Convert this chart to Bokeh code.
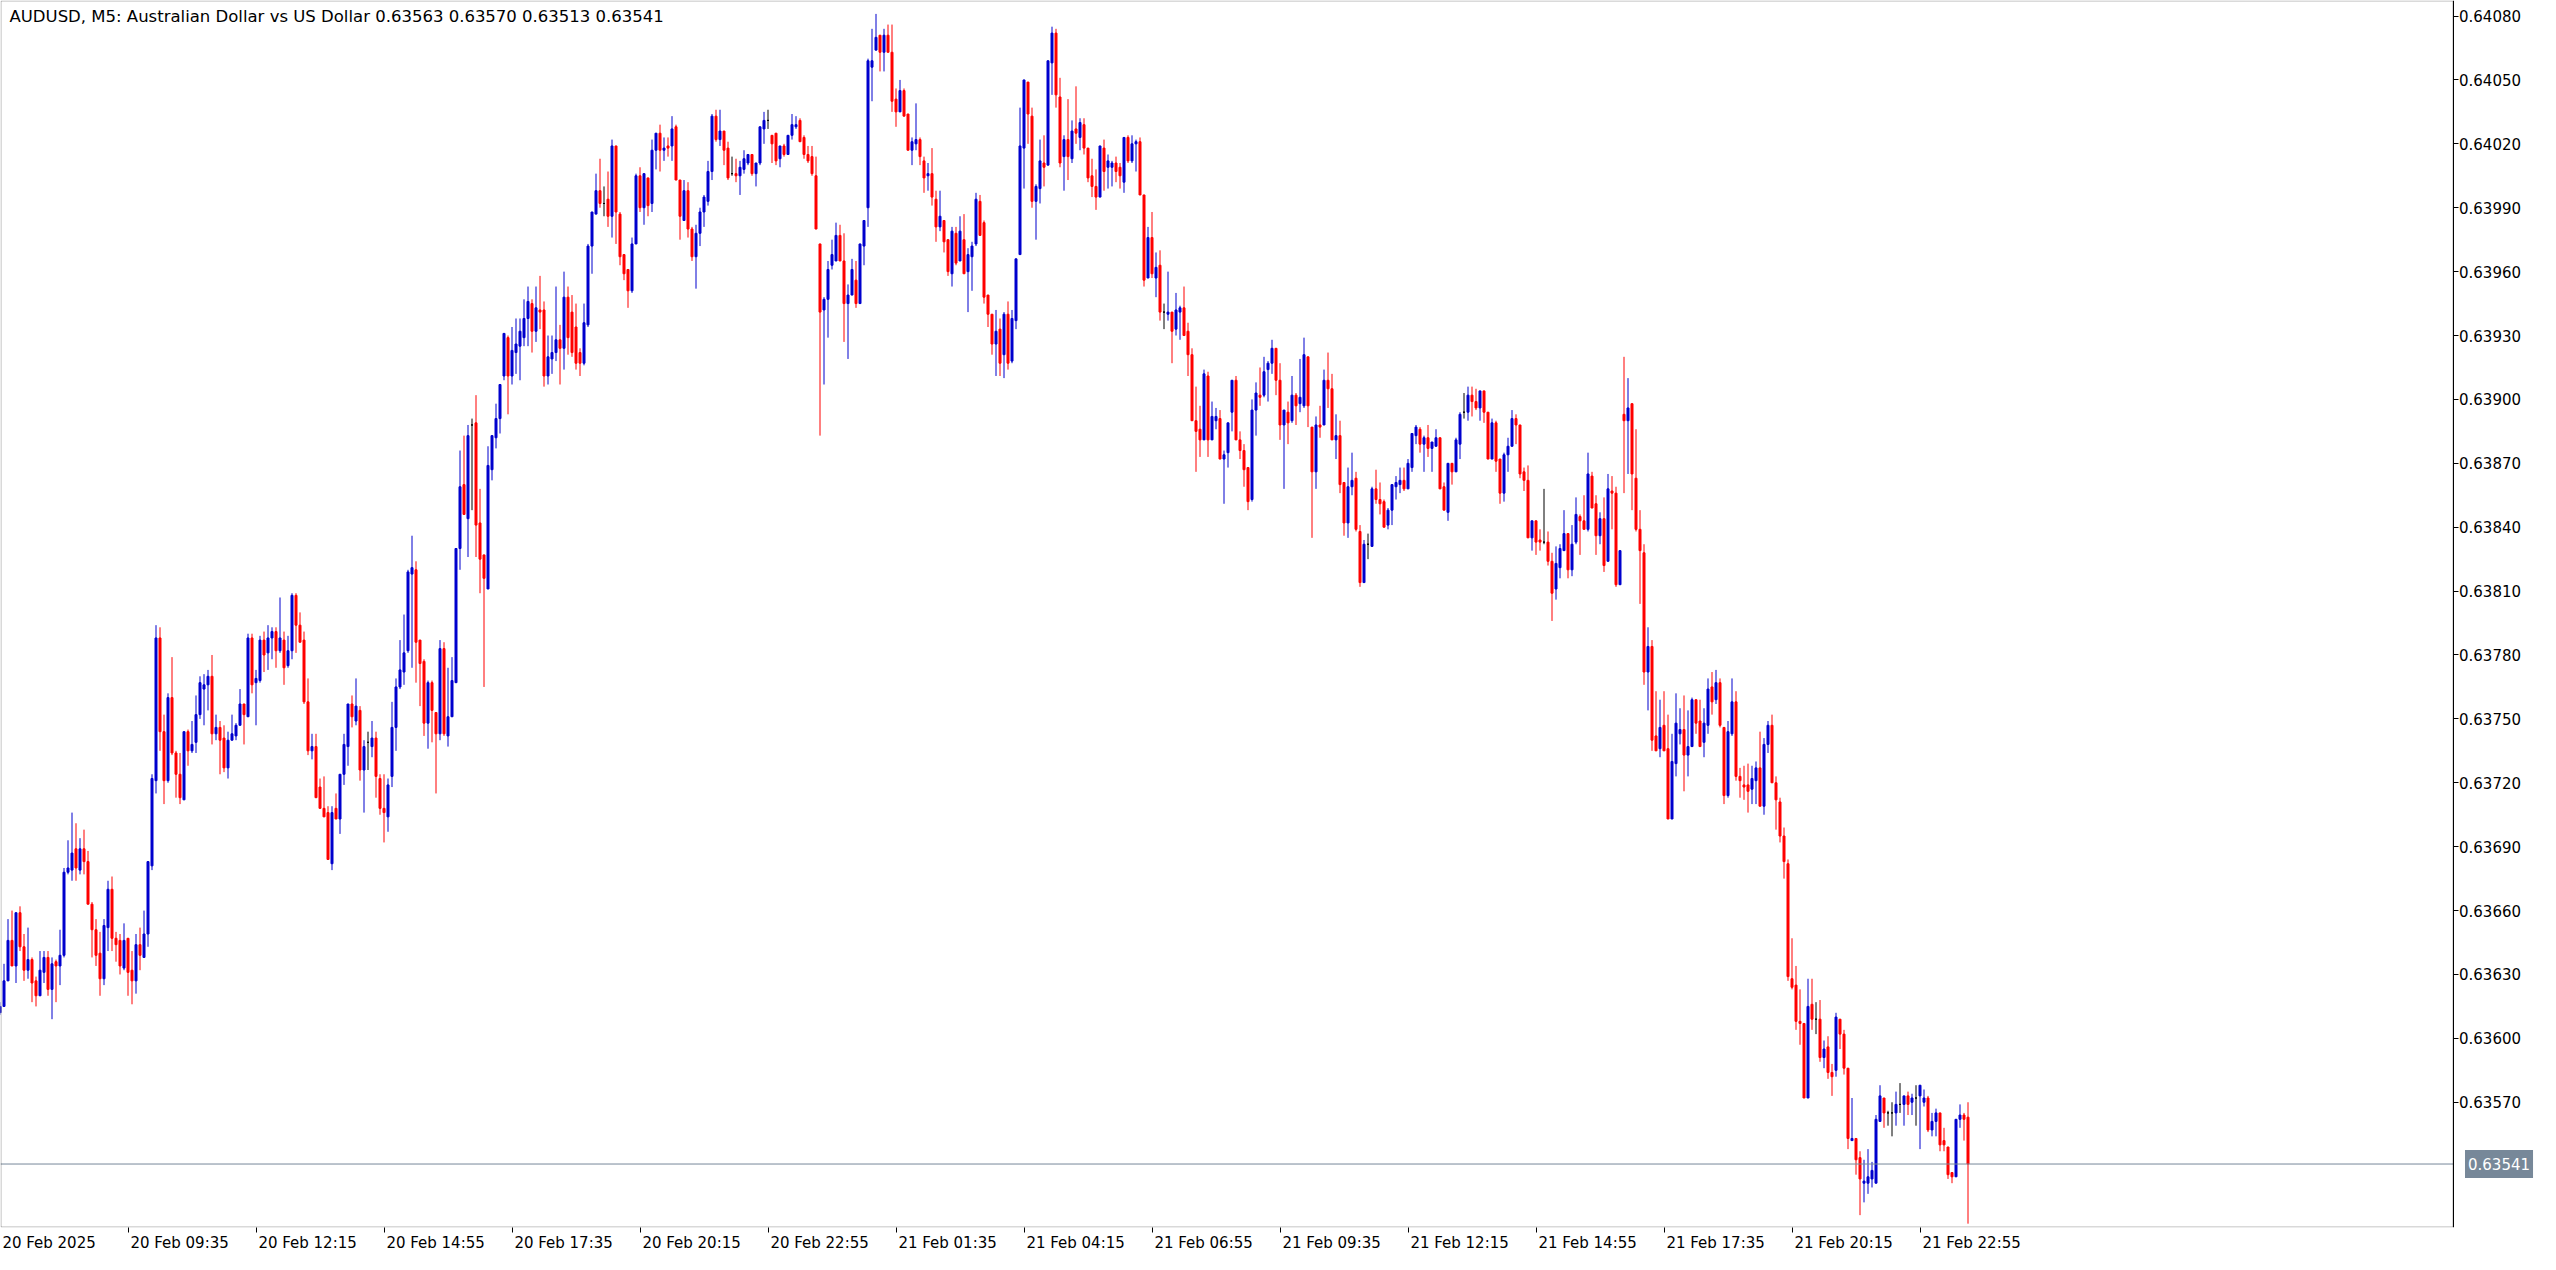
import numpy as np
from bokeh.plotting import figure
from bokeh.models import (ColumnDataSource, LinearAxis, FixedTicker, NumeralTickFormatter,
                          Range1d, Label, BoxAnnotation)
from bokeh.embed import file_html
from bokeh.resources import INLINE

# ---------------- data (prices in points of 0.00001) ----------------
symbol = "AUDUSD"
timeframe = "M5"
description = "Australian Dollar vs US Dollar"
point = 0.00001

bar_open = [
    63612, 63615, 63627, 63646, 63634, 63659, 63643, 63632, 63637, 63627,
    63620, 63631, 63638, 63623, 63636, 63634, 63639, 63678, 63679, 63689,
    63679, 63689, 63683, 63663, 63651, 63640, 63628, 63652, 63670, 63647,
    63646, 63633, 63647, 63632, 63627, 63644, 63638, 63649, 63681, 63721,
    63788, 63744, 63721, 63760, 63734, 63724, 63712, 63744, 63735, 63739,
    63752, 63764, 63766, 63770, 63743, 63746, 63741, 63727, 63740, 63742,
    63747, 63757, 63751, 63788, 63767, 63768, 63787, 63781, 63788, 63791,
    63782, 63787, 63775, 63782, 63808, 63794, 63787, 63758, 63735, 63737,
    63718, 63708, 63706, 63682, 63708, 63703, 63724, 63737, 63757, 63749,
    63754, 63726, 63739, 63737, 63741, 63722, 63708, 63704, 63723, 63746,
    63765, 63772, 63782, 63818, 63820, 63787, 63777, 63748, 63767, 63753,
    63743, 63783, 63742, 63751, 63767, 63830, 63860, 63844, 63888, 63889,
    63842, 63827, 63811, 63867, 63882, 63891, 63911, 63929, 63911, 63922,
    63925, 63929, 63938, 63945, 63932, 63942, 63942, 63911, 63919, 63922,
    63928, 63924, 63948, 63941, 63934, 63922, 63917, 63935, 63972, 63987,
    63998, 63992, 63994, 63986, 64019, 63987, 63968, 63961, 63951, 63973,
    64005, 63990, 64004, 63992, 64017, 64025, 64017, 64019, 64019, 64028,
    64003, 63984, 63998, 63980, 63967, 63978, 63988, 63993, 64007, 64033,
    64022, 64026, 64018, 64006, 64006, 64005, 64008, 64011, 64015, 64006,
    64011, 64027, 64031, 64024, 64025, 64013, 64019, 64015, 64024, 64028,
    64031, 64023, 64015, 64014, 64005, 63973, 63942, 63947, 63963, 63965,
    63977, 63965, 63945, 63949, 63956, 63945, 63972, 63990, 64056, 64064,
    64071, 64063, 64071, 64063, 64041, 64035, 64045, 64034, 64017, 64020,
    64022, 64012, 64005, 64006, 63994, 63981, 63984, 63975, 63959, 63978,
    63965, 63975, 63960, 63967, 63973, 63993, 63983, 63949, 63940, 63926,
    63933, 63921, 63940, 63918, 63937, 63968, 64018, 64049, 64033, 63993,
    63999, 64011, 64010, 64058, 64072, 64042, 64014, 64022, 64013, 64027,
    64023, 64029, 64018, 64005, 64000, 63995, 64018, 64009, 64009, 64011,
    64009, 64002, 64023, 64012, 64020, 64021, 63996, 63957, 63976, 63957,
    63963, 63941, 63940, 63941, 63933, 63941, 63943, 63932, 63921, 63890,
    63886, 63881, 63911, 63881, 63890, 63891, 63872, 63875, 63894, 63909,
    63881, 63876, 63868, 63853, 63895, 63902, 63902, 63914, 63917, 63924,
    63909, 63888, 63894, 63890, 63902, 63898, 63897, 63920, 63887, 63866,
    63888, 63888, 63909, 63905, 63881, 63883, 63861, 63842, 63859, 63863,
    63838, 63814, 63832, 63831, 63858, 63853, 63852, 63841, 63848, 63859,
    63860, 63862, 63858, 63868, 63883, 63886, 63879, 63882, 63877, 63878,
    63882, 63859, 63847, 63870, 63866, 63879, 63894, 63894, 63902, 63899,
    63896, 63904, 63894, 63872, 63889, 63872, 63856, 63874, 63878, 63891,
    63888, 63866, 63862, 63835, 63843, 63834, 63833, 63833, 63824, 63811,
    63821, 63829, 63837, 63820, 63833, 63845, 63843, 63839, 63864, 63851,
    63836, 63844, 63824, 63857, 63856, 63813, 63893, 63890, 63898, 63863,
    63839, 63828, 63772, 63784, 63742, 63736, 63747, 63736, 63703, 63729,
    63743, 63745, 63733, 63737, 63759, 63749, 63739, 63747, 63765, 63759,
    63767, 63746, 63714, 63743, 63758, 63723, 63719, 63719, 63717, 63721,
    63727, 63709, 63738, 63747, 63720, 63711, 63695, 63682, 63628, 63625,
    63608, 63607, 63572, 63616, 63609, 63609, 63591, 63596, 63584, 63585,
    63609, 63602, 63586, 63552, 63553, 63544, 63532, 63532, 63534, 63532,
    63561, 63572, 63565, 63565, 63565, 63569, 63569, 63573, 63570, 63572,
    63573, 63570, 63572, 63557, 63561, 63565, 63552, 63549, 63537, 63535,
    63562, 63564, 63563,
]

bar_high = [
    63617, 63635, 63656, 63660, 63659, 63662, 63649, 63652, 63638, 63629,
    63641, 63641, 63641, 63638, 63637, 63651, 63680, 63693, 63706, 63701,
    63694, 63698, 63688, 63664, 63656, 63650, 63656, 63674, 63676, 63650,
    63649, 63654, 63647, 63641, 63649, 63652, 63660, 63683, 63724, 63794,
    63793, 63752, 63762, 63779, 63735, 63734, 63744, 63745, 63749, 63761,
    63770, 63771, 63773, 63780, 63752, 63749, 63747, 63744, 63752, 63748,
    63764, 63757, 63790, 63790, 63773, 63789, 63791, 63794, 63793, 63793,
    63807, 63791, 63789, 63809, 63809, 63800, 63791, 63769, 63743, 63743,
    63722, 63723, 63709, 63709, 63715, 63724, 63743, 63757, 63761, 63769,
    63756, 63740, 63744, 63749, 63744, 63724, 63724, 63722, 63758, 63769,
    63787, 63799, 63820, 63836, 63824, 63787, 63778, 63768, 63768, 63753,
    63787, 63786, 63774, 63779, 63830, 63876, 63883, 63888, 63891, 63902,
    63858, 63827, 63878, 63883, 63898, 63907, 63931, 63930, 63934, 63938,
    63938, 63947, 63953, 63947, 63953, 63958, 63946, 63930, 63930, 63953,
    63935, 63960, 63953, 63949, 63945, 63924, 63945, 63973, 63988, 64006,
    64013, 64000, 64007, 64022, 64019, 63988, 63968, 63961, 63976, 64006,
    64009, 64006, 64004, 64022, 64025, 64029, 64023, 64023, 64033, 64029,
    64003, 64003, 64002, 63981, 63982, 63990, 63996, 64012, 64034, 64036,
    64036, 64026, 64021, 64014, 64013, 64012, 64017, 64015, 64015, 64011,
    64028, 64035, 64036, 64024, 64025, 64019, 64020, 64024, 64034, 64033,
    64032, 64024, 64019, 64019, 64014, 63973, 63948, 63965, 63975, 63983,
    63982, 63978, 63954, 63966, 63965, 63973, 63984, 64060, 64074, 64081,
    64071, 64074, 64076, 64076, 64046, 64050, 64046, 64034, 64023, 64039,
    64023, 64014, 64011, 64018, 63998, 63998, 63984, 63975, 63981, 63981,
    63986, 63987, 63971, 63974, 63997, 63996, 63984, 63949, 63940, 63942,
    63938, 63941, 63946, 63942, 63966, 64037, 64050, 64049, 64037, 64001,
    64022, 64024, 64059, 64075, 64074, 64051, 64024, 64041, 64031, 64047,
    64032, 64032, 64018, 64013, 64008, 64019, 64022, 64015, 64012, 64014,
    64011, 64023, 64024, 64024, 64022, 64023, 63996, 63981, 63988, 63969,
    63970, 63945, 63960, 63941, 63950, 63944, 63953, 63936, 63924, 63906,
    63897, 63914, 63913, 63899, 63896, 63895, 63876, 63889, 63909, 63911,
    63885, 63879, 63868, 63900, 63908, 63915, 63920, 63918, 63928, 63924,
    63917, 63895, 63899, 63911, 63903, 63919, 63929, 63920, 63887, 63892,
    63897, 63914, 63922, 63912, 63893, 63890, 63861, 63868, 63875, 63866,
    63841, 63834, 63837, 63859, 63867, 63861, 63853, 63849, 63860, 63864,
    63868, 63868, 63872, 63884, 63888, 63887, 63883, 63888, 63880, 63886,
    63882, 63861, 63870, 63870, 63882, 63894, 63903, 63906, 63906, 63905,
    63904, 63904, 63894, 63891, 63890, 63872, 63875, 63882, 63895, 63893,
    63888, 63868, 63869, 63843, 63843, 63839, 63858, 63838, 63828, 63831,
    63832, 63848, 63837, 63841, 63854, 63846, 63855, 63875, 63866, 63855,
    63847, 63854, 63865, 63864, 63859, 63829, 63920, 63910, 63898, 63886,
    63848, 63832, 63793, 63787, 63763, 63759, 63763, 63752, 63743, 63762,
    63755, 63761, 63754, 63760, 63759, 63759, 63755, 63769, 63772, 63773,
    63769, 63746, 63749, 63769, 63763, 63727, 63728, 63729, 63728, 63730,
    63744, 63741, 63749, 63752, 63723, 63713, 63699, 63684, 63647, 63634,
    63623, 63607, 63628, 63628, 63617, 63618, 63599, 63601, 63588, 63612,
    63609, 63604, 63586, 63572, 63553, 63547, 63543, 63548, 63542, 63564,
    63578, 63572, 63566, 63570, 63575, 63579, 63573, 63575, 63574, 63578,
    63578, 63576, 63573, 63565, 63567, 63565, 63558, 63549, 63537, 63562,
    63569, 63565, 63570,
]

bar_low = [
    63611, 63615, 63627, 63634, 63626, 63641, 63627, 63628, 63617, 63615,
    63620, 63626, 63620, 63609, 63617, 63625, 63638, 63677, 63674, 63674,
    63677, 63677, 63663, 63638, 63634, 63620, 63625, 63641, 63641, 63636,
    63630, 63632, 63620, 63616, 63621, 63632, 63638, 63643, 63679, 63715,
    63735, 63710, 63720, 63733, 63713, 63710, 63712, 63728, 63734, 63734,
    63750, 63747, 63754, 63738, 63740, 63724, 63725, 63722, 63740, 63740,
    63747, 63738, 63751, 63762, 63747, 63767, 63772, 63773, 63778, 63774,
    63781, 63766, 63774, 63778, 63781, 63786, 63757, 63733, 63731, 63713,
    63708, 63704, 63684, 63679, 63703, 63696, 63719, 63728, 63746, 63747,
    63721, 63706, 63726, 63732, 63713, 63705, 63692, 63697, 63718, 63735,
    63764, 63766, 63781, 63774, 63767, 63756, 63742, 63736, 63739, 63715,
    63740, 63742, 63737, 63751, 63767, 63820, 63846, 63826, 63848, 63826,
    63809, 63765, 63811, 63862, 63877, 63884, 63909, 63893, 63907, 63912,
    63909, 63925, 63925, 63922, 63927, 63933, 63906, 63907, 63912, 63918,
    63907, 63914, 63921, 63920, 63914, 63911, 63916, 63934, 63959, 63987,
    63990, 63986, 63981, 63976, 63973, 63963, 63956, 63943, 63950, 63973,
    63988, 63982, 63986, 63988, 64008, 64007, 64012, 64014, 64012, 64003,
    63975, 63984, 63976, 63965, 63952, 63972, 63981, 63991, 64003, 64021,
    64019, 64010, 64003, 64005, 64002, 63996, 64006, 64010, 64005, 64000,
    64010, 64020, 64027, 64011, 64010, 64009, 64014, 64015, 64022, 64027,
    64021, 64013, 64011, 64005, 63980, 63883, 63907, 63929, 63961, 63965,
    63965, 63927, 63919, 63949, 63943, 63945, 63963, 63981, 64040, 64064,
    64054, 64054, 64063, 64035, 64028, 64035, 64033, 64017, 64010, 64017,
    64010, 63997, 63998, 63991, 63974, 63979, 63969, 63958, 63953, 63963,
    63965, 63959, 63941, 63951, 63972, 63977, 63945, 63934, 63921, 63911,
    63911, 63910, 63914, 63917, 63933, 63968, 63999, 64020, 63990, 63975,
    63992, 64000, 64010, 64043, 64037, 64009, 63998, 64003, 64011, 64020,
    64017, 64015, 64002, 63995, 63989, 63995, 63998, 63999, 64000, 64002,
    63999, 63997, 64011, 64011, 64007, 63996, 63953, 63957, 63957, 63948,
    63937, 63933, 63937, 63917, 63930, 63928, 63930, 63911, 63890, 63866,
    63873, 63881, 63873, 63881, 63886, 63872, 63851, 63868, 63885, 63881,
    63872, 63859, 63848, 63852, 63883, 63897, 63901, 63899, 63912, 63902,
    63881, 63858, 63879, 63889, 63888, 63894, 63896, 63887, 63835, 63858,
    63882, 63888, 63896, 63881, 63872, 63856, 63836, 63835, 63855, 63838,
    63812, 63814, 63825, 63831, 63851, 63846, 63840, 63839, 63841, 63853,
    63856, 63857, 63858, 63866, 63879, 63875, 63866, 63873, 63866, 63878,
    63858, 63848, 63843, 63860, 63866, 63872, 63891, 63890, 63892, 63895,
    63890, 63889, 63872, 63872, 63866, 63851, 63852, 63866, 63878, 63879,
    63863, 63857, 63835, 63829, 63827, 63829, 63832, 63822, 63796, 63806,
    63816, 63829, 63816, 63817, 63832, 63827, 63839, 63838, 63849, 63827,
    63832, 63819, 63824, 63839, 63812, 63813, 63856, 63865, 63848, 63838,
    63804, 63766, 63754, 63735, 63735, 63732, 63735, 63703, 63703, 63723,
    63738, 63716, 63723, 63737, 63743, 63737, 63732, 63743, 63752, 63757,
    63746, 63710, 63713, 63742, 63721, 63713, 63712, 63706, 63710, 63710,
    63709, 63705, 63734, 63720, 63698, 63692, 63675, 63627, 63623, 63604,
    63597, 63572, 63572, 63604, 63602, 63589, 63586, 63581, 63573, 63582,
    63595, 63583, 63548, 63552, 63536, 63517, 63523, 63527, 63530, 63532,
    63561, 63558, 63559, 63554, 63559, 63565, 63559, 63564, 63564, 63559,
    63548, 63568, 63556, 63554, 63554, 63547, 63547, 63534, 63532, 63535,
    63558, 63552, 63513,
]

bar_close = [
    63615, 63627, 63646, 63634, 63659, 63643, 63632, 63637, 63626, 63620,
    63632, 63638, 63623, 63635, 63634, 63639, 63678, 63680, 63687, 63680,
    63689, 63683, 63663, 63651, 63639, 63628, 63653, 63670, 63647, 63644,
    63634, 63646, 63631, 63627, 63644, 63639, 63649, 63683, 63722, 63788,
    63744, 63721, 63760, 63734, 63724, 63713, 63744, 63735, 63738, 63752,
    63767, 63766, 63770, 63743, 63746, 63740, 63727, 63740, 63743, 63747,
    63757, 63752, 63788, 63766, 63769, 63787, 63780, 63788, 63791, 63782,
    63788, 63774, 63782, 63808, 63794, 63786, 63758, 63735, 63737, 63713,
    63708, 63704, 63684, 63706, 63703, 63724, 63738, 63757, 63751, 63756,
    63726, 63737, 63739, 63741, 63723, 63708, 63706, 63719, 63746, 63765,
    63773, 63781, 63819, 63821, 63786, 63776, 63748, 63767, 63754, 63743,
    63783, 63743, 63751, 63768, 63830, 63859, 63846, 63883, 63888, 63841,
    63825, 63816, 63869, 63883, 63891, 63907, 63931, 63911, 63923, 63926,
    63932, 63938, 63946, 63932, 63943, 63941, 63911, 63920, 63922, 63928,
    63924, 63948, 63929, 63922, 63917, 63917, 63936, 63972, 63988, 63998,
    63992, 63992, 63986, 64019, 63988, 63967, 63959, 63951, 63973, 64005,
    63990, 64006, 63991, 64017, 64025, 64017, 64018, 64018, 64027, 64003,
    63986, 63998, 63980, 63967, 63978, 63988, 63995, 64007, 64033, 64022,
    64026, 64017, 64004, 64006, 64005, 64009, 64013, 64015, 64006, 64011,
    64028, 64031, 64031, 64020, 64012, 64019, 64015, 64024, 64029, 64029,
    64021, 64015, 64012, 64006, 63980, 63941, 63947, 63961, 63968, 63977,
    63965, 63945, 63949, 63961, 63945, 63973, 63984, 64059, 64059, 64070,
    64063, 64071, 64063, 64040, 64035, 64045, 64033, 64017, 64021, 64022,
    64014, 64004, 64006, 63995, 63981, 63986, 63974, 63960, 63979, 63964,
    63979, 63959, 63968, 63972, 63994, 63977, 63948, 63940, 63926, 63932,
    63917, 63940, 63917, 63938, 63966, 64019, 64050, 64034, 63993, 64000,
    64012, 64009, 64059, 64072, 64043, 64011, 64022, 64014, 64026, 64025,
    64030, 64018, 64004, 64000, 63995, 64019, 64007, 64012, 64011, 64007,
    64005, 64023, 64012, 64020, 64021, 63996, 63956, 63976, 63959, 63962,
    63941, 63941, 63941, 63932, 63942, 63943, 63930, 63921, 63890, 63885,
    63881, 63912, 63881, 63892, 63892, 63872, 63874, 63889, 63909, 63881,
    63876, 63867, 63852, 63895, 63903, 63901, 63913, 63917, 63924, 63909,
    63888, 63895, 63889, 63902, 63897, 63901, 63921, 63897, 63866, 63888,
    63887, 63909, 63905, 63881, 63883, 63860, 63842, 63859, 63862, 63839,
    63814, 63832, 63832, 63858, 63853, 63851, 63840, 63848, 63860, 63861,
    63862, 63858, 63870, 63884, 63887, 63879, 63882, 63877, 63880, 63882,
    63858, 63848, 63870, 63866, 63881, 63893, 63894, 63902, 63899, 63896,
    63904, 63894, 63872, 63889, 63871, 63856, 63874, 63878, 63891, 63888,
    63865, 63862, 63835, 63843, 63833, 63833, 63833, 63824, 63809, 63823,
    63830, 63837, 63820, 63832, 63846, 63843, 63839, 63865, 63849, 63836,
    63844, 63822, 63858, 63856, 63813, 63829, 63890, 63896, 63865, 63839,
    63829, 63772, 63784, 63740, 63735, 63746, 63735, 63703, 63730, 63748,
    63745, 63733, 63737, 63759, 63748, 63737, 63748, 63764, 63758, 63767,
    63747, 63714, 63744, 63758, 63723, 63721, 63718, 63716, 63722, 63727,
    63709, 63738, 63747, 63720, 63712, 63695, 63683, 63629, 63624, 63608,
    63607, 63572, 63615, 63609, 63609, 63591, 63595, 63584, 63582, 63610,
    63602, 63586, 63553, 63553, 63543, 63534, 63533, 63535, 63538, 63562,
    63573, 63565, 63565, 63565, 63569, 63569, 63573, 63569, 63572, 63572,
    63578, 63572, 63557, 63561, 63565, 63550, 63550, 63536, 63535, 63562,
    63564, 63562, 63541,
]

price_ticks = [0.63570, 0.63600, 0.63630, 0.63660, 0.63690, 0.63720, 0.63750,
               0.63780, 0.63810, 0.63840, 0.63870, 0.63900, 0.63930, 0.63960,
               0.63990, 0.64020, 0.64050, 0.64080]

time_tick_bars = [0, 32, 64, 96, 128, 160, 192, 224, 256, 288, 320, 352, 384, 416, 448, 480]
time_tick_labels = ["20 Feb 2025", "20 Feb 09:35", "20 Feb 12:15", "20 Feb 14:55",
                    "20 Feb 17:35", "20 Feb 20:15", "20 Feb 22:55", "21 Feb 01:35",
                    "21 Feb 04:15", "21 Feb 06:55", "21 Feb 09:35", "21 Feb 12:15",
                    "21 Feb 14:55", "21 Feb 17:35", "21 Feb 20:15", "21 Feb 22:55"]

n = len(bar_close)
assert len(bar_open) == n and len(bar_high) == n and len(bar_low) == n

# ---------------- styling / layout ----------------
FONT = "DejaVu Sans"
BULL = "#0000CD"
BEAR = "#FF0000"
DOJI = "#000000"
LAST_COLOR = "#778899"
BAR_PX = 4                      # pixels per bar
CHART_W = 2452                  # width of the candle area (up to the price-scale border)
FIG_W, FIG_H = 2540, 1254
FRAME_H = 1229
Y_TOP, Y_BOTTOM = 0.640873, 0.635112
DY = (Y_TOP - Y_BOTTOM) / FRAME_H   # price per pixel

o = np.array(bar_open) * point
h = np.array(bar_high) * point
l = np.array(bar_low) * point
c = np.array(bar_close) * point
h = np.maximum(h, np.maximum(o, c))
l = np.minimum(l, np.minimum(o, c))
idx = np.arange(n)
colors = np.where(c > o, BULL, np.where(c < o, BEAR, DOJI))

src = ColumnDataSource(dict(x=idx, o=o, h=h, l=l, c=c,
                            top=np.maximum(o, c), bottom=np.minimum(o, c),
                            color=colors))

x0 = 0.125
border_x = x0 + (CHART_W + 0.5) / BAR_PX

p = figure(width=FIG_W, height=FIG_H, output_backend="svg", toolbar_location=None,
           x_range=Range1d(x0, x0 + FIG_W / BAR_PX),
           y_range=Range1d(Y_BOTTOM, Y_TOP),
           x_axis_location=None, y_axis_location=None,
           min_border_left=0, min_border_top=0,
           min_border_right=0, min_border_bottom=FIG_H - FRAME_H)
p.grid.visible = False
p.outline_line_color = None
p.background_fill_color = "white"
p.border_fill_color = "white"

# wicks and bodies
p.segment(x0="x", y0="l", x1="x", y1="h", line_color="color", line_width=1, source=src)
p.vbar(x="x", width=0.5, top="top", bottom="bottom", fill_color="color",
       line_color="color", line_width=1, source=src)

# last price line (chart area only)
last_price = c[-1]
p.segment(x0=[x0], x1=[border_x], y0=[last_price], y1=[last_price],
          line_color=LAST_COLOR, line_width=1)

# chart border (left, top, bottom); right border is the price axis line
p.add_layout(BoxAnnotation(left=x0 + 0.5 / BAR_PX, right=border_x,
                           top=Y_TOP - 0.5 * DY, bottom=Y_BOTTOM + 0.5 * DY,
                           fill_color=None, line_color="black", line_width=1))

# price axis, fixed at the chart border
yaxis = LinearAxis(ticker=FixedTicker(ticks=price_ticks),
                   formatter=NumeralTickFormatter(format="0.00000"),
                   fixed_location=border_x,
                   axis_line_color="black", major_tick_out=5, major_tick_in=0,
                   minor_tick_out=0, minor_tick_in=0, major_tick_line_color="black",
                   major_label_standoff=1, major_label_text_font=FONT,
                   major_label_text_font_size="15px", major_label_text_color="black")
p.add_layout(yaxis, "right")

# time axis: tick marks (near the frame)
tick_axis = LinearAxis(ticker=FixedTicker(ticks=time_tick_bars),
                       axis_line_color=None, major_tick_out=5, major_tick_in=0,
                       minor_tick_out=0, minor_tick_in=0, major_tick_line_color="black",
                       major_label_overrides={b: "" for b in time_tick_bars},
                       major_label_standoff=0, major_label_text_font_size="1px")
p.add_layout(tick_axis, "below")

# time axis: labels, left-aligned just after each tick
CHAR_EM = {" ": 0.318, ":": 0.337, "F": 0.575, "e": 0.615, "b": 0.635}
def text_width(s, size=15):
    return sum(CHAR_EM.get(ch, 0.636) for ch in s) * size

label_pos = [round(b + (text_width(t) / 2 + 2) / BAR_PX, 3)
             for b, t in zip(time_tick_bars, time_tick_labels)]
label_axis = LinearAxis(ticker=FixedTicker(ticks=label_pos),
                        major_label_overrides={pos: t for pos, t in zip(label_pos, time_tick_labels)},
                        axis_line_color=None, major_tick_out=0, major_tick_in=0,
                        minor_tick_out=0, minor_tick_in=0,
                        major_label_standoff=1, major_label_text_font=FONT,
                        major_label_text_font_size="15px", major_label_text_color="black")
p.add_layout(label_axis, "below")

# last price tag on the price scale (box starts 4 px right of the border)
p.add_layout(Label(x=border_x + 12 / BAR_PX, y=last_price, x_units="data", y_units="data",
                   text=f"{last_price:.5f}", text_font=FONT, text_font_size="15px",
                   text_color="white", text_align="left", text_baseline="middle",
                   background_fill_color=LAST_COLOR, padding=(3, 8)))

# header
header = (f"{symbol}, {timeframe}:  {description}  "
          + " ".join(f"{v:.5f}" for v in (o[-1], h[-1], l[-1], c[-1])))
p.add_layout(Label(x=9, y=FRAME_H - 8, x_units="screen", y_units="screen",
                   text=header, text_font=FONT, text_font_size="16.5px",
                   text_color="black", text_align="left", text_baseline="top"))

open("out.html", "w").write(file_html(p, INLINE))
